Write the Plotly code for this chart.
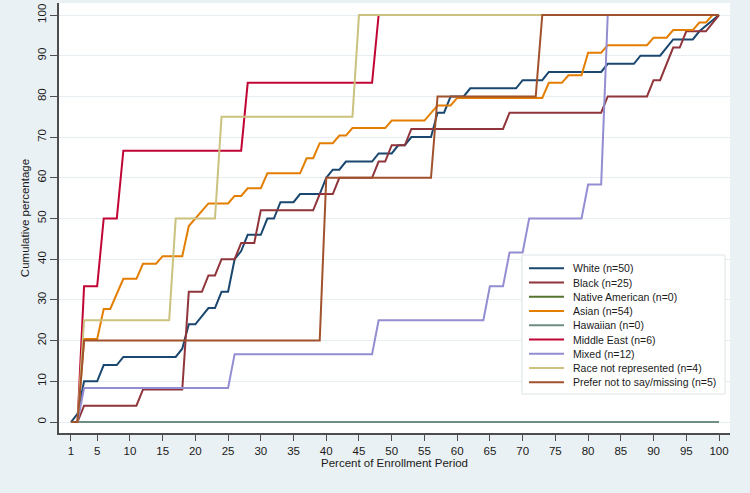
import plotly.graph_objects as go

# ---------------- data (vertices) ----------------
series_names = ["White (n=50)", "Black (n=25)", "Native American (n=0)", "Asian (n=54)",
                "Hawaiian (n=0)", "Middle East (n=6)", "Mixed (n=12)",
                "Race not represented (n=4)", "Prefer not to say/missing (n=5)"]
series_colors = ["#1a476f", "#90353b", "#55752f", "#e37e00", "#6e8e84",
                 "#c10534", "#938dd2", "#cac27e", "#a0522d"]

white_x = [1, 2, 3, 5, 6, 8, 9, 17, 18, 19, 20, 22, 23, 24, 25, 26, 27, 28, 30, 31, 32, 33, 35, 36, 39,
           40, 41, 42, 43, 47, 48, 50, 51, 52, 53, 56, 57, 58, 59, 61, 62, 69, 70, 73, 74, 82, 83, 87,
           88, 91, 93, 96, 97, 100]
white_y = [0, 2, 10, 10, 14, 14, 16, 16, 18, 24, 24, 28, 28, 32, 32, 40, 42, 46, 46, 50, 50, 54, 54, 56, 56,
           60, 62, 62, 64, 64, 66, 66, 68, 68, 70, 70, 76, 76, 80, 80, 82, 82, 84, 84, 86, 86, 88, 88,
           90, 90, 94, 94, 96, 100]

black_x = [1, 2, 3, 11, 12, 18, 19, 21, 22, 23, 24, 26, 27, 29, 30, 38, 39, 41, 42, 47, 48, 49, 50, 52,
           53, 67, 68, 82, 83, 89, 90, 91, 93, 94, 95, 98, 100]
black_y = [0, 0, 4, 4, 8, 8, 32, 32, 36, 36, 40, 40, 44, 44, 52, 52, 56, 56, 60, 60, 64, 64, 68, 68,
           72, 72, 76, 76, 80, 80, 84, 84, 92, 92, 96, 96, 100]

native_x = [1, 100]
native_y = [0, 0]

asian_x = [1, 2, 3, 5, 6, 7, 9, 11, 12, 14, 15, 18, 19, 20, 22, 25, 26, 27, 28, 30, 31, 36, 37, 38, 39,
           41, 42, 43, 44, 49, 50, 55, 56, 57, 59, 60, 73, 74, 76, 77, 79, 80, 82, 83, 89, 90, 92, 93,
           96, 97, 98, 99, 100]
asian_y = [0, 0, 20.37, 20.37, 27.78, 27.78, 35.19, 35.19, 38.89, 38.89, 40.74, 40.74, 48.15, 50.0,
           53.70, 53.70, 55.56, 55.56, 57.41, 57.41, 61.11, 61.11, 64.81, 64.81, 68.52, 68.52, 70.37,
           70.37, 72.22, 72.22, 74.07, 74.07, 75.93, 77.78, 77.78, 79.63, 79.63, 83.33, 83.33, 85.19,
           85.19, 90.74, 90.74, 92.59, 92.59, 94.44, 94.44, 96.30, 96.30, 98.15, 98.15, 100, 100]

hawaiian_x = [1, 100]
hawaiian_y = [0, 0]

mideast_x = [1, 2, 3, 5, 6, 8, 9, 27, 28, 47, 48, 100]
mideast_y = [0, 0, 33.33, 33.33, 50, 50, 66.67, 66.67, 83.33, 83.33, 100, 100]

mixed_x = [1, 2, 3, 25, 26, 47, 48, 64, 65, 67, 68, 70, 71, 79, 80, 82, 83, 100]
mixed_y = [0, 0, 8.33, 8.33, 16.67, 16.67, 25, 25, 33.33, 33.33, 41.67, 41.67, 50, 50, 58.33, 58.33,
           100, 100]

notrep_x = [1, 2, 3, 16, 17, 23, 24, 44, 45, 100]
notrep_y = [0, 0, 25, 25, 50, 50, 75, 75, 100, 100]

prefer_x = [1, 2, 3, 39, 40, 56, 57, 72, 73, 100]
prefer_y = [0, 0, 20, 20, 60, 60, 80, 80, 100, 100]

x_ticks = [1, 5, 10, 15, 20, 25, 30, 35, 40, 45, 50, 55, 60, 65, 70, 75, 80, 85, 90, 95, 100]
y_ticks = [0, 10, 20, 30, 40, 50, 60, 70, 80, 90, 100]

x_title = "Percent of Enrollment Period"
y_title = "Cumulative percentage"

all_x = [white_x, black_x, native_x, asian_x, hawaiian_x, mideast_x, mixed_x, notrep_x, prefer_x]
all_y = [white_y, black_y, native_y, asian_y, hawaiian_y, mideast_y, mixed_y, notrep_y, prefer_y]

# ---------------- figure ----------------
W, H = 750, 493
L, R, T, B = 59, 20, 3, 60
FONT = "Liberation Sans, Arial, sans-serif"

fig = go.Figure()
for name, col, xs, ys in zip(series_names, series_colors, all_x, all_y):
    fig.add_trace(go.Scatter(x=xs, y=ys, mode="lines", name=name,
                             line=dict(color=col, width=2), showlegend=False,
                             hoverinfo="x+y+name"))

axis_col = "#4d4d4d"
fig.update_layout(
    width=W, height=H,
    margin=dict(l=L, r=R, t=T, b=B),
    paper_bgcolor="#eaf1f4",
    plot_bgcolor="#ffffff",
    font=dict(family=FONT, size=11.5, color="#1a1a1a"),
    xaxis=dict(range=[-0.83, 101.68], tickvals=x_ticks, showgrid=False, zeroline=False,
               showline=True, linecolor=axis_col, linewidth=1.5,
               ticks="outside", ticklen=6, tickwidth=1.2, tickcolor=axis_col,
               title=dict(text=x_title, standoff=2, font=dict(size=11.5)),
               tickfont=dict(size=11.5)),
    yaxis=dict(range=[-2.7, 102.95], tickvals=y_ticks, showgrid=True, gridcolor="#e6eef1",
               gridwidth=1, zeroline=False, showline=True, linecolor=axis_col, linewidth=1.5,
               ticks="outside", ticklen=7, tickwidth=1.2, tickcolor=axis_col, tickangle=-90,
               title=dict(text=y_title, standoff=4, font=dict(size=11.5)),
               tickfont=dict(size=11.5)),
)

# ---------------- manual legend (compact, like the reference) ----------------
pw, ph = W - L - R, H - T - B
def px_x(px):
    return (px - L) / pw
def px_y(py):
    return (H - B - py) / ph

box = dict(x0=522, x1=725, y0=255, y1=394)
fig.add_shape(type="rect", xref="paper", yref="paper",
              x0=px_x(box["x0"]), x1=px_x(box["x1"]), y0=px_y(box["y1"]), y1=px_y(box["y0"]),
              line=dict(color="#dde4e7", width=1), fillcolor="#ffffff", layer="above")
row0, drow = 268.3, 14.25
for i, (name, col) in enumerate(zip(series_names, series_colors)):
    yy = px_y(row0 + i * drow)
    fig.add_shape(type="line", xref="paper", yref="paper",
                  x0=px_x(529), x1=px_x(564), y0=yy, y1=yy,
                  line=dict(color=col, width=2), layer="above")
    fig.add_annotation(xref="paper", yref="paper", x=px_x(571), y=yy, text=name,
                       showarrow=False, xanchor="left", yanchor="middle",
                       font=dict(family=FONT, size=10.5, color="#1a1a1a"))

fig.write_html("out.html")
